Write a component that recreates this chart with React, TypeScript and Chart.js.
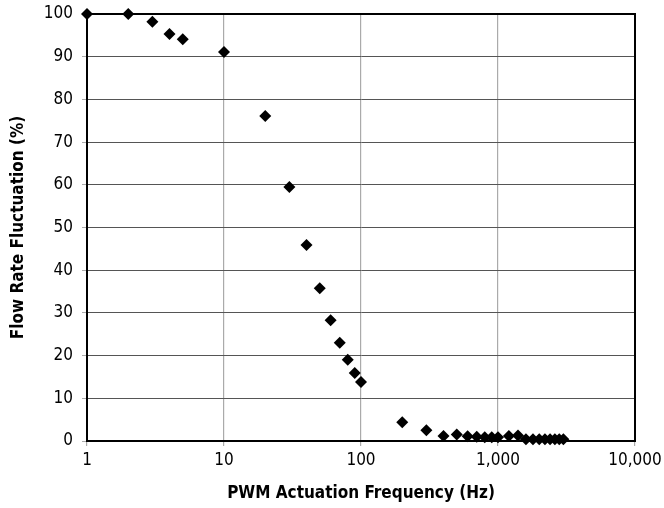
import React, { useEffect, useRef } from "react";
import { Chart, registerables } from "chart.js";

Chart.register(...registerables);

const frequencies = [1, 2, 3, 4, 5, 10, 20, 30, 40, 50, 60, 70, 80, 90, 100, 200, 300, 400, 500, 600, 700, 800, 900, 1000, 1200, 1400, 1600, 1800, 2000, 2200, 2400, 2600, 2800, 3000];
const fluctuation = [100, 100, 98.2, 95.3, 94.1, 91.1, 76.1, 59.5, 45.9, 35.8, 28.3, 23.0, 19.0, 15.9, 13.8, 4.4, 2.5, 1.2, 1.5, 1.1, 1.0, 0.9, 0.9, 0.9, 1.2, 1.3, 0.4, 0.4, 0.4, 0.4, 0.4, 0.4, 0.4, 0.4];
const xTickValues = [1, 10, 100, 1000, 10000];
const xTitle = "PWM Actuation Frequency (Hz)";
const yTitle = "Flow Rate Fluctuation (%)";

const FONT = '"Liberation Sans Narrow", "DejaVu Sans Condensed", "Liberation Sans", Arial, sans-serif';

const borderPlugin = {
  id: "frameBorder",
  afterDraw(chart: any) {
    const { ctx, chartArea } = chart;
    ctx.save();
    ctx.strokeStyle = "#000";
    ctx.lineWidth = 2;
    ctx.strokeRect(chartArea.left, chartArea.top, chartArea.right - chartArea.left, chartArea.bottom - chartArea.top);
    ctx.restore();
  },
};

export default function App() {
  const ref = useRef<HTMLCanvasElement>(null);
  useEffect(() => {
    document.body.style.margin = "0";
    const chart = new Chart(ref.current!, {
      type: "scatter",
      data: {
        datasets: [
          {
            data: frequencies.map((f, i) => ({ x: f, y: fluctuation[i] })),
            pointStyle: "rectRot",
            pointRadius: 6,
            backgroundColor: "#000",
            borderColor: "#000",
            borderWidth: 0,
          },
        ],
      },
      options: {
        animation: false,
        responsive: false,
        clip: false as any,
        layout: { padding: { top: 14, right: 29, left: 0, bottom: 0 } },
        plugins: { legend: { display: false }, tooltip: { enabled: false } },
        scales: {
          x: {
            type: "logarithmic",
            min: 1,
            max: 10000,
            afterBuildTicks: (scale: any) => {
              scale.ticks = xTickValues.map((v) => ({ value: v, major: true }));
            },
            afterFit: (scale: any) => {
              scale.height = 67;
              scale.paddingLeft = 0;
              scale.paddingRight = 0;
            },
            ticks: {
              color: "#000",
              font: { family: FONT, size: 17 },
              padding: 4,
              maxRotation: 0,
              autoSkip: false,
              callback: (v: any) => Number(v).toLocaleString("en-US"),
            },
            grid: { color: "#aaaaaa", lineWidth: 1.2, tickLength: 5, tickColor: "#aaaaaa" },
            border: { color: "#000", width: 2 },
            title: {
              display: true,
              text: xTitle,
              color: "#000",
              font: { family: FONT, size: 17, weight: "bold" },
              padding: { top: 9 },
            },
          },
          y: {
            min: 0,
            max: 100,
            afterFit: (scale: any) => {
              scale.width = 87;
              scale.paddingTop = 0;
              scale.paddingBottom = 0;
            },
            ticks: {
              stepSize: 10,
              color: "#000",
              font: { family: FONT, size: 17 },
              padding: 9,
            },
            grid: { color: "#555555", lineWidth: 1, tickLength: 5, tickColor: "#aaaaaa" },
            border: { color: "#000", width: 2 },
            title: {
              display: true,
              text: yTitle,
              color: "#000",
              font: { family: FONT, size: 17, weight: "bold" },
              padding: { top: 8, bottom: 0 },
            },
          },
        },
      },
      plugins: [borderPlugin],
    } as any);
    return () => chart.destroy();
  }, []);
  return (
    <div style={{ width: 664, height: 508 }}>
      <canvas ref={ref} width={664} height={508} style={{ width: 664, height: 508, display: "block" }} />
    </div>
  );
}
